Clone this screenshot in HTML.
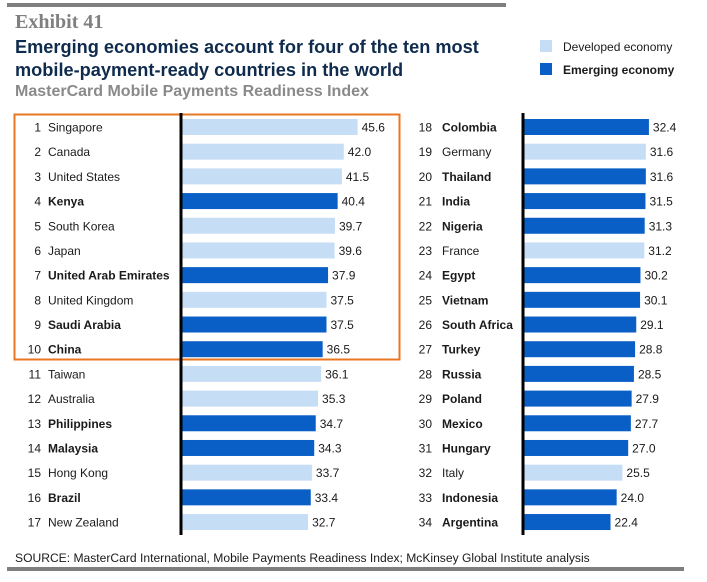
<!DOCTYPE html>
<html><head><meta charset="utf-8"><style>
body{margin:0;background:#fff;width:707px;height:577px;overflow:hidden;font-family:"Liberation Sans",Arial,sans-serif}
</style></head><body>
<svg width="707" height="577" xmlns="http://www.w3.org/2000/svg" id="svg">
<rect x="7" y="3" width="499" height="4" fill="#7f7f7f"/>
<text x="15" y="28" font-family="Liberation Serif,serif" font-weight="bold" font-size="20" fill="#808080">Exhibit 41</text>
<text x="15" y="53" font-weight="bold" font-size="18.2" fill="#0f2b4d">Emerging economies account for four of the ten most</text>
<text x="15" y="76" font-weight="bold" font-size="18.2" fill="#0f2b4d">mobile-payment-ready countries in the world</text>
<text x="15" y="96" font-weight="bold" font-size="16" fill="#8a8a8a">MasterCard Mobile Payments Readiness Index</text>
<g>
<rect x="540" y="40" width="12" height="12" fill="#c6ddf6"/>
<text x="563" y="51" font-size="12" fill="#1a1a1a">Developed economy</text>
<rect x="540" y="63" width="12" height="12" fill="#0a5fc6"/>
<text x="563" y="74" font-size="12" font-weight="bold" fill="#1a1a1a">Emerging economy</text>
</g>
<rect x="14.5" y="114.5" width="385" height="245" fill="none" stroke="#e87722" stroke-width="2"/>
<g id="bars"></g>
<text x="15" y="562" font-size="12.1" fill="#1a1a1a">SOURCE: MasterCard International, Mobile Payments Readiness Index; McKinsey Global Institute analysis</text>
<rect x="7" y="567" width="677" height="4" fill="#7f7f7f"/>
</svg>
<script>
const countries=["Singapore","Canada","United States","Kenya","South Korea","Japan","United Arab Emirates","United Kingdom","Saudi Arabia","China","Taiwan","Australia","Philippines","Malaysia","Hong Kong","Brazil","New Zealand","Colombia","Germany","Thailand","India","Nigeria","France","Egypt","Vietnam","South Africa","Turkey","Russia","Poland","Mexico","Hungary","Italy","Indonesia","Argentina"];
const scores=[45.6,42.0,41.5,40.4,39.7,39.6,37.9,37.5,37.5,36.5,36.1,35.3,34.7,34.3,33.7,33.4,32.7,32.4,31.6,31.6,31.5,31.3,31.2,30.2,30.1,29.1,28.8,28.5,27.9,27.7,27.0,25.5,24.0,22.4];
const emerging=[0,0,0,1,0,0,1,0,1,1,0,0,1,1,0,1,0,1,0,1,1,1,0,1,1,1,1,1,1,1,1,0,1,1];
const NS="http://www.w3.org/2000/svg";
const g=document.getElementById('bars');
const perCol=17, rowY=i=>127+i*24.69, xScale=v=>v*3.84;
const cols=[{num:41,name:48,axis:181},{num:432,name:442,axis:523}];
function mk(t,a){const e=document.createElementNS(NS,t);for(const k in a)e.setAttribute(k,a[k]);g.appendChild(e);return e;}
cols.forEach((c,ci)=>{
  const ax=mk('line',{x1:c.axis,x2:c.axis,y1:113,y2:535,stroke:'#000','stroke-width':3});
  
  
});
countries.forEach((n,i)=>{
  const c=cols[Math.floor(i/perCol)], r=i%perCol, y=rowY(r), em=emerging[i];
  const num=mk('text',{x:c.num,y:y+4.5,'font-size':12,'text-anchor':'end',fill:'#1a1a1a'});num.textContent=i+1;
  
  
  const lab=mk('text',{x:c.name,y:y+4.5,'font-size':12,'font-weight':em?'bold':'normal',fill:'#1a1a1a'});lab.textContent=n;
  
  
  const w=xScale(scores[i]);
  const b=mk('rect',{x:c.axis+1.5,y:y-8,width:w,height:16,fill:em?'#0a5fc6':'#c6ddf6'});
  
  
  const v=mk('text',{x:c.axis+1.5+w+4,y:y+4.5,'font-size':12,fill:'#1a1a1a'});v.textContent=scores[i].toFixed(1);
  
  
});
</script>
</body></html>
